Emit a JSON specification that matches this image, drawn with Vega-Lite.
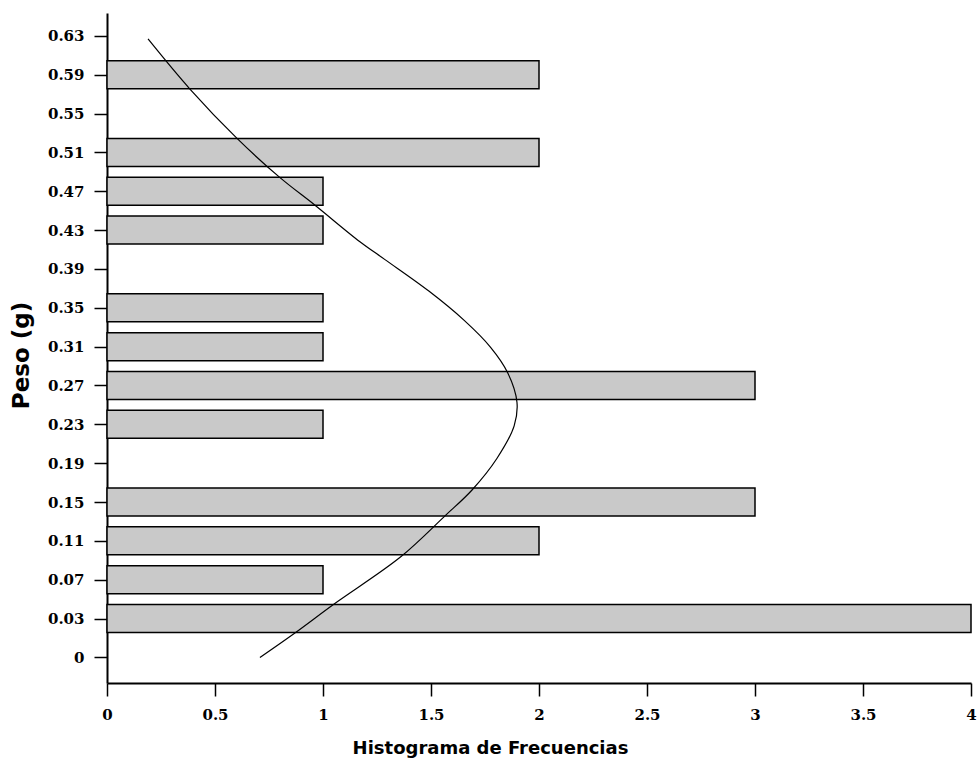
{
  "$schema": "https://vega.github.io/schema/vega-lite/v6.json",
  "width": 864,
  "height": 670,
  "autosize": "none",
  "padding": {"left": 107, "top": 13, "right": 9, "bottom": 83},
  "background": "white",
  "config": {
    "view": {"stroke": null},
    "axis": {
      "grid": false,
      "domainColor": "black",
      "domainWidth": 2,
      "tickColor": "black",
      "tickWidth": 1.5,
      "tickSize": 13,
      "labelColor": "black",
      "labelFont": "DejaVu Serif",
      "labelFontWeight": "bold",
      "labelFontSize": 15,
      "titleColor": "black",
      "titleFont": "DejaVu Sans",
      "titleFontWeight": "bold"
    }
  },
  "datasets": {
    "bars": [
      {"peso": "0.03", "indice": 1, "frecuencia": 4},
      {"peso": "0.07", "indice": 2, "frecuencia": 1},
      {"peso": "0.11", "indice": 3, "frecuencia": 2},
      {"peso": "0.15", "indice": 4, "frecuencia": 3},
      {"peso": "0.23", "indice": 6, "frecuencia": 1},
      {"peso": "0.27", "indice": 7, "frecuencia": 3},
      {"peso": "0.31", "indice": 8, "frecuencia": 1},
      {"peso": "0.35", "indice": 9, "frecuencia": 1},
      {"peso": "0.43", "indice": 11, "frecuencia": 1},
      {"peso": "0.47", "indice": 12, "frecuencia": 1},
      {"peso": "0.51", "indice": 13, "frecuencia": 2},
      {"peso": "0.59", "indice": 15, "frecuencia": 2}
    ],
    "curve": [
      {"indice": 0, "frecuencia": 0.708},
      {"indice": 0.63, "frecuencia": 0.87},
      {"indice": 1.37, "frecuencia": 1.05},
      {"indice": 2.59, "frecuencia": 1.36},
      {"indice": 3.65, "frecuencia": 1.566},
      {"indice": 4.31, "frecuencia": 1.69},
      {"indice": 5.12, "frecuencia": 1.805},
      {"indice": 5.96, "frecuencia": 1.885},
      {"indice": 6.57, "frecuencia": 1.898},
      {"indice": 7.33, "frecuencia": 1.855},
      {"indice": 7.99, "frecuencia": 1.775},
      {"indice": 8.67, "frecuencia": 1.655},
      {"indice": 9.43, "frecuencia": 1.49},
      {"indice": 10.24, "frecuencia": 1.287},
      {"indice": 10.7, "frecuencia": 1.171},
      {"indice": 11.64, "frecuencia": 0.963},
      {"indice": 12.35, "frecuencia": 0.801},
      {"indice": 13.36, "frecuencia": 0.602},
      {"indice": 14.63, "frecuencia": 0.384},
      {"indice": 15.92, "frecuencia": 0.19}
    ]
  },
  "layer": [
    {
      "data": {"name": "bars"},
      "mark": {"type": "bar", "orient": "horizontal", "size": 28, "fill": "#c9c9c9", "stroke": "black", "strokeWidth": 1.5},
      "encoding": {
        "x": {
          "field": "frecuencia", "type": "quantitative",
          "scale": {"domain": [0, 4], "nice": false},
          "axis": {
            "values": [0, 0.5, 1, 1.5, 2, 2.5, 3, 3.5, 4],
            "format": "~g",
            "labelPadding": 11,
            "labelFlush": false,
            "title": "Histograma de Frecuencias",
            "titleFontSize": 18,
            "titleX": 383,
            "titleY": 56,
            "titleAnchor": null,
            "titleAlign": "center",
            "titleBaseline": "top"
          }
        },
        "y": {
          "field": "indice", "type": "quantitative",
          "scale": {"domain": [-0.53, 16.46], "nice": false, "zero": false},
          "axis": {
            "values": [0, 1, 2, 3, 4, 5, 6, 7, 8, 9, 10, 11, 12, 13, 14, 15, 16],
            "labelExpr": "datum.value == 0 ? '0' : format(0.03 + (datum.value - 1) * 0.04, '.2f')",
            "labelPadding": 10,
            "labelFlush": false,
            "title": "Peso (g)",
            "titleFontSize": 23,
            "titleAngle": -90,
            "titleX": -86,
            "titleY": 342,
            "titleAlign": "center",
            "titleBaseline": "middle"
          }
        }
      }
    },
    {
      "data": {"name": "curve"},
      "mark": {"type": "line", "color": "black", "strokeWidth": 1.2, "interpolate": "catmull-rom"},
      "encoding": {
        "x": {"field": "frecuencia", "type": "quantitative"},
        "y": {"field": "indice", "type": "quantitative"},
        "order": {"field": "indice", "type": "quantitative"}
      }
    }
  ]
}
